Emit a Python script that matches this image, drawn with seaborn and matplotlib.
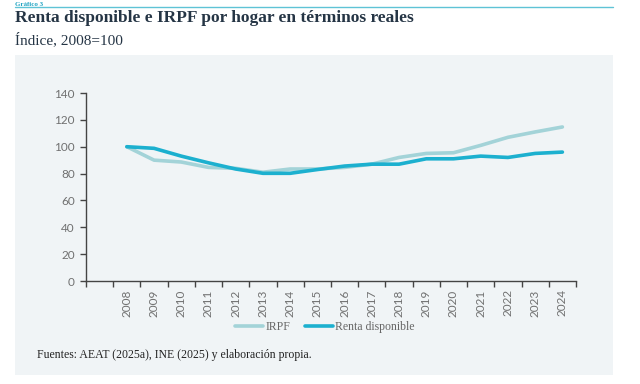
import matplotlib
matplotlib.use("Agg")
import matplotlib.pyplot as plt
import seaborn as sns
import pandas as pd
import numpy as np
from matplotlib.patches import Rectangle
from matplotlib.lines import Line2D

years = [str(y) for y in range(2008, 2025)]
irpf = [100, 90, 88.6, 84.6, 83.9, 81, 83.4, 83.4, 84.6, 87, 92, 95, 95.5, 101, 107, 111, 114.7]
renta = [100, 98.8, 93, 88, 83.4, 80.2, 80.2, 83, 85.6, 87, 87, 91, 91, 93, 92, 95, 96]
series_names = ["IRPF", "Renta disponible"]
colors = ["#a3d3d8", "#1cb0cf"]

df = pd.DataFrame({
    "x": list(range(len(years))) * 2,
    "valor": irpf + renta,
    "serie": [series_names[0]] * len(years) + [series_names[1]] * len(years),
})

sns.set_theme(style="white")
plt.rcParams["font.family"] = ["Liberation Serif", "DejaVu Serif"]

W, H = 640, 384
fig = plt.figure(figsize=(W / 100, H / 100), dpi=100)
fig.patch.set_facecolor("white")

# panel background
fig.patches.append(Rectangle((15 / W, 1 - 375 / H), (613 - 15) / W, (375 - 55) / H,
                             transform=fig.transFigure, facecolor="#f0f4f6",
                             edgecolor="none", zorder=-5))
# top rule
fig.add_artist(Line2D([15 / W, 613 / W], [1 - 7 / H, 1 - 7 / H], transform=fig.transFigure,
                      color="#5fc3d6", lw=1.0))
fig.text(15 / W, 1 - 5.5 / H, "Gráfico 3", color="#1ea3c2", fontsize=5, fontweight="bold",
         va="baseline", ha="left")
fig.text(15 / W, 1 - 18 / H, "Renta disponible e IRPF por hogar en términos reales",
         color="#253545", fontsize=12.5, fontweight="bold", va="center", ha="left")
fig.text(15 / W, 1 - 40 / H, "Índice, 2008=100", color="#253545", fontsize=11,
         va="center", ha="left")
fig.text(37 / W, 1 - 355 / H, "Fuentes: AEAT (2025a), INE (2025) y elaboración propia.",
         color="#222222", fontsize=8.5, va="center", ha="left")

ax = fig.add_axes([86 / W, 1 - 281 / H, (576 - 86) / W, (281 - 93) / H])
ax.set_zorder(2)
ax.set_facecolor("none")
sns.lineplot(data=df, x="x", y="valor", hue="serie", palette=colors, ax=ax,
             linewidth=2.6, legend=False)
for ln in ax.lines:
    ln.set_solid_capstyle("round")

ax.set_xlim(-1.5, len(years) - 0.5)
ax.set_ylim(0, 140)
ax.set_yticks(range(0, 141, 20))
ax.set_xticks(range(len(years)))
ax.set_xticklabels(years, rotation=90)
ax.set_xticks(np.arange(-1.5, len(years), 1.0), minor=True)
ax.tick_params(axis="x", which="major", length=0, pad=6, labelsize=8.5, labelcolor="#707070")
ax.tick_params(axis="x", which="minor", length=4, width=1, color="#444444", direction="out",
               bottom=True)
ax.tick_params(axis="y", which="major", length=4, width=1, color="#444444", direction="out",
               labelsize=8.5, labelcolor="#707070", pad=4, left=True)
for lab in ax.get_xticklabels() + ax.get_yticklabels():
    lab.set_family(["Lato", "DejaVu Sans"])
for s in ["top", "right"]:
    ax.spines[s].set_visible(False)
for s in ["left", "bottom"]:
    ax.spines[s].set_color("#444444")
    ax.spines[s].set_linewidth(1)
ax.set_xlabel("")
ax.set_ylabel("")
ax.grid(False)

handles = [Line2D([0], [0], color=c, lw=2.6) for c in colors]
fig.legend(handles, series_names, loc="center", bbox_to_anchor=(325 / W, 1 - 327 / H),
           ncol=2, frameon=False, fontsize=8.5, handlelength=2.4, handletextpad=0.2,
           columnspacing=1.2, labelcolor="#666666")

fig.savefig("out.png", dpi=100, facecolor="white")
